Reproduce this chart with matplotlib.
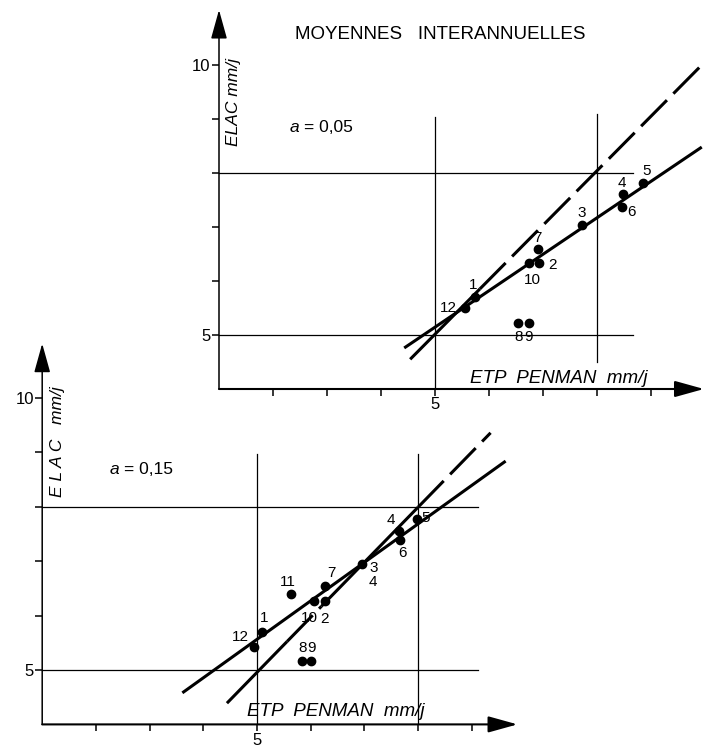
import numpy as np
import matplotlib
matplotlib.use("Agg")
import matplotlib.pyplot as plt
from matplotlib.patches import FancyArrowPatch

plt.rcParams['font.family'] = ['Liberation Sans', 'DejaVu Sans']

# --- data (ETP Penman vs ELAC, mm/j), months 1..12 ---
# top panel : a = 0,05
top_months = ["12", "1", "10", "2", "7", "3", "6", "4", "5", "8", "9"]
top_etp = [5.56, 5.74, 6.74, 6.93, 6.91, 7.72, 8.46, 8.48, 8.85, 6.54, 6.74]
top_elac = [5.50, 5.70, 6.33, 6.33, 6.60, 7.04, 7.37, 7.61, 7.82, 5.22, 5.22]
top_fit_x = [4.43, 9.94]
top_fit_y = [4.76, 8.48]
top_bisect_x = [4.54, 9.94]
top_bisect_y = [4.55, 10.00]

# bottom panel : a = 0,15
bot_months = ["12", "1", "11", "10", "2", "7", "3", "4", "6", "5", "8", "9"]
bot_etp = [4.94, 5.10, 5.63, 6.07, 6.26, 6.26, 6.96, 7.65, 7.67, 7.98, 5.83, 6.00]
bot_elac = [5.42, 5.70, 6.40, 6.27, 6.27, 6.54, 6.95, 7.56, 7.39, 7.78, 5.17, 5.17]
bot_fit_x = [3.61, 9.63]
bot_fit_y = [4.58, 8.84]
bot_bisect_x = [4.44, 9.35]
bot_bisect_y = [4.39, 9.36]

ref_lines = [5, 8]

# where the 1:1 line switches between solid and dashed (x), first piece solid
top_breaks = [5.83]
bot_breaks = [5.56, 6.2, 8.0]

# label offsets in pixels (dx, dy), same order as the months above
top_offsets = [(-17, 0), (-2, 12), (3, -17), (13, -2), (-1, 11), (0, 12),
               (10, -5), (-1, 11), (4, 12), (0, -14), (0, -14)]
bot_offsets = [(-13, 10), (2, 14), (-3, 12), (-5, -17), (0, -18), (7, 13),
               (11, -4), (-8, 11), (2, -13), (9, 1), (1, 13), (1, 13)]

W, H = 705, 747
fig = plt.figure(figsize=(W / 100, H / 100), dpi=100)


def make_axes(x0, x1, xlim, y0, y1, ylim):
    # x0/x1, y0/y1 : pixel positions of the limits
    ax = fig.add_axes([x0 / W, 1 - y0 / H, (x1 - x0) / W, (y0 - y1) / H])
    ax.set_xlim(*xlim)
    ax.set_ylim(*ylim)
    ax.patch.set_alpha(0)
    for s in ax.spines.values():
        s.set_visible(False)
    ax.set_xticks(range(2, 10))
    ax.set_xticklabels(["5" if t == 5 else "" for t in range(2, 10)])
    ax.set_yticks(range(5, 11))
    ax.set_yticklabels(["5" if t == 5 else ("10" if t == 10 else "") for t in range(5, 11)])
    ax.tick_params(direction="out", length=5, width=1.1, labelsize=12, pad=1)
    return ax


def arrow(ax, p0, p1, lw):
    a = FancyArrowPatch(p0, p1, arrowstyle="-|>,head_length=0.9,head_width=0.25",
                        mutation_scale=20, color="black", lw=lw,
                        shrinkA=0, shrinkB=0, clip_on=False)
    ax.add_patch(a)


def bisector(ax, xs, ys, breaks):
    t = np.array([xs[0]] + breaks + [xs[1]])
    yy = np.interp(t, xs, ys)
    for i in range(len(t) - 1):
        if i % 2 == 0:
            ax.plot(t[i:i + 2], yy[i:i + 2], color="black", lw=2.2, solid_capstyle="butt")
        else:
            ax.plot(t[i:i + 2], yy[i:i + 2], color="black", lw=2.2, dashes=(12, 3),
                    dash_capstyle="butt")


def panel(ax, xmax, ymax, hx, v8, fit_x, fit_y, bis_x, bis_y, breaks,
          months, etp, elac, offsets):
    arrow(ax, (1, 4), (xmax, 4), 1.5)
    arrow(ax, (1, 4), (1, ymax), 1.1)
    for v in ref_lines:
        ax.plot([1, hx], [v, v], color="black", lw=0.9)
    ax.plot([8, 8], v8, color="black", lw=0.9)
    ax.plot(fit_x, fit_y, color="black", lw=2.2, solid_capstyle="butt")
    bisector(ax, bis_x, bis_y, breaks)
    ax.plot(etp, elac, "o", color="black", ms=6, zorder=5)
    for m, x, y, (dx, dy) in zip(months, etp, elac, offsets):
        ax.annotate(m, (x, y), xytext=(dx * 0.72, dy * 0.72), textcoords="offset points",
                    ha="center", va="center", fontsize=11)


def a_label(ax, x, y, val):
    ax.text(x, y, "a", fontsize=12.5, style="italic", va="center", ha="left")
    ax.annotate("= " + val, (x, y), xytext=(10, 0), textcoords="offset points",
                fontsize=12.5, va="center", ha="left")


# ---------- top panel ----------
ax1 = make_axes(219, 705, (1, 10), 389, 335 - 6.2 * 54, (4, 11.2))
panel(ax1, 9.98, 11.02, 8.67, (9.1, 4.5), top_fit_x, top_fit_y,
      top_bisect_x, top_bisect_y, top_breaks, top_months, top_etp, top_elac, top_offsets)
ax1.plot([5, 5], [4, 9.04], color="black", lw=0.9)
ax1.text(5.09, 10.57, "MOYENNES   INTERANNUELLES", fontsize=13.5, ha="center", va="center")
a_label(ax1, 2.31, 8.85, "0,05")
ax1.text(1.27, 9.31, "ELAC mm/j", rotation=90, fontsize=12.5, style="italic",
         ha="center", va="center")
ax1.text(5.65, 4.2, "ETP  PENMAN  mm/j", fontsize=13.5, style="italic", ha="left", va="center")

# ---------- bottom panel ----------
bx = lambda v: 257 + (v - 5) * 53.7
by = lambda v: 670 - (v - 5) * 54.4
ax2 = make_axes(bx(1), bx(9.9), (1, 9.9), by(4), by(11.1), (4, 11.1))
panel(ax2, 9.85, 11.0, 9.12, (8.97, 4.0), bot_fit_x, bot_fit_y,
      bot_bisect_x, bot_bisect_y, bot_breaks, bot_months, bot_etp, bot_elac, bot_offsets)
ax2.plot([5, 5], [4, 8.97], color="black", lw=0.9)
ax2.text(7.16, 6.62, "4", fontsize=11, ha="center", va="center")
a_label(ax2, 2.26, 8.68, "0,15")
ax2.text(1.28, 9.2, "E L A C   mm/j", rotation=90, fontsize=12.5, style="italic",
         ha="center", va="center")
ax2.text(4.81, 4.23, "ETP  PENMAN  mm/j", fontsize=13.5, style="italic", ha="left", va="center")

fig.savefig("out.png", dpi=100)
